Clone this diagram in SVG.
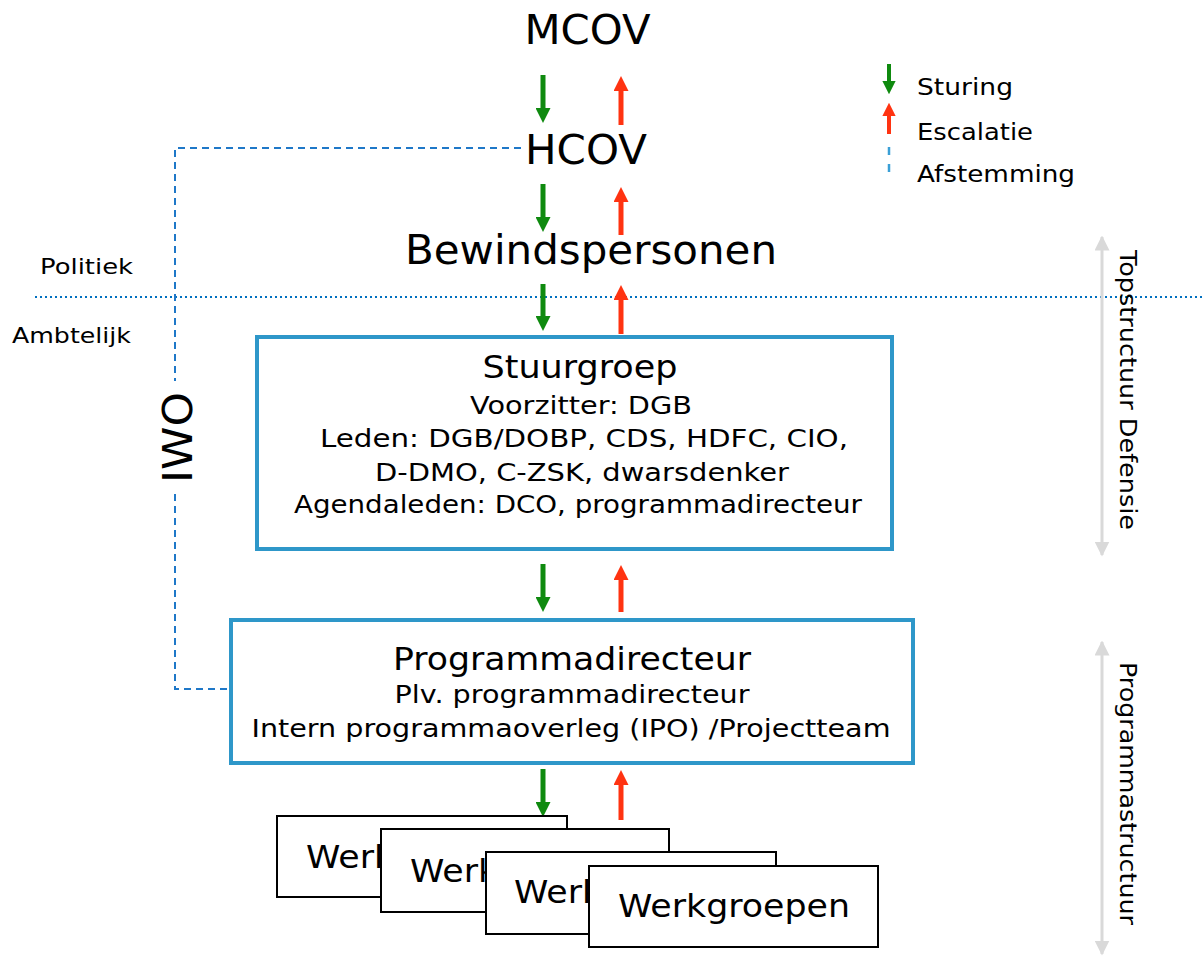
<svg xmlns="http://www.w3.org/2000/svg" width="1202" height="956" viewBox="0 0 1202 956">
<style>
text{font-family:"DejaVu Sans","Liberation Sans",sans-serif;fill:#000}
.big{font-size:41px}
.ttl{font-size:32px}
.body{font-size:25px}
.leg{font-size:23px}
.side{font-size:22px}
.box{fill:#fff;stroke:#2e97c9;stroke-width:4}
.wg{fill:#fff;stroke:#000;stroke-width:2}
.g{stroke:#0f8a0f;stroke-width:5;fill:none}
.r{stroke:#ff3311;stroke-width:5;fill:none}
.gl{stroke:#0f8a0f;stroke-width:4;fill:none}
.rl{stroke:#ff3311;stroke-width:4;fill:none}
.gray{stroke:#d9d9d9;stroke-width:3;fill:none}
.iwo{fill:none;stroke:#1f78c8;stroke-width:2;stroke-dasharray:7,5}
</style>
<defs>
<marker id="ag" viewBox="0 0 10 10" refX="1" refY="5" markerWidth="3" markerHeight="3" orient="auto" markerUnits="strokeWidth"><path d="M0,0L10,5L0,10z" fill="#0f8a0f"/></marker>
<marker id="ar" viewBox="0 0 10 10" refX="1" refY="5" markerWidth="3" markerHeight="3" orient="auto" markerUnits="strokeWidth"><path d="M0,0L10,5L0,10z" fill="#ff3311"/></marker>
<marker id="agl" viewBox="0 0 10 10" refX="1" refY="5" markerWidth="3.4" markerHeight="3.4" orient="auto" markerUnits="strokeWidth"><path d="M0,0L10,5L0,10z" fill="#0f8a0f"/></marker>
<marker id="arl" viewBox="0 0 10 10" refX="1" refY="5" markerWidth="3.4" markerHeight="3.4" orient="auto" markerUnits="strokeWidth"><path d="M0,0L10,5L0,10z" fill="#ff3311"/></marker>
<marker id="agr" viewBox="0 0 10 10" refX="9" refY="5" markerWidth="5" markerHeight="5" orient="auto-start-reverse" markerUnits="strokeWidth"><path d="M0,0L10,5L0,10z" fill="#d9d9d9"/></marker>
<clipPath id="c1"><rect x="277" y="816" width="104" height="81"/></clipPath>
<clipPath id="c2"><rect x="381" y="829" width="105" height="83"/></clipPath>
<clipPath id="c3"><rect x="486" y="852" width="103" height="82"/></clipPath>
</defs>

<g id="separator">
<line x1="35" y1="297" x2="1202" y2="297" stroke="#0070c0" stroke-width="2" stroke-dasharray="2,3"/>
<text class="side" x="40" y="274" textLength="93" lengthAdjust="spacingAndGlyphs">Politiek</text>
<text class="side" x="12" y="343" textLength="119" lengthAdjust="spacingAndGlyphs">Ambtelijk</text>
</g>

<g id="connectors">
<path class="iwo" d="M521,148H175V381"/>
<path class="iwo" d="M175,494V689H230"/>
<line class="g" x1="543" y1="75" x2="543" y2="109.5" marker-end="url(#ag)"/>
<line class="r" x1="621" y1="125" x2="621" y2="89.5" marker-end="url(#ar)"/>
<line class="g" x1="543" y1="184" x2="543" y2="218.5" marker-end="url(#ag)"/>
<line class="r" x1="621" y1="235" x2="621" y2="200.5" marker-end="url(#ar)"/>
<line class="g" x1="543" y1="284" x2="543" y2="317.5" marker-end="url(#ag)"/>
<line class="r" x1="621" y1="334" x2="621" y2="298.5" marker-end="url(#ar)"/>
<line class="g" x1="543" y1="564" x2="543" y2="598.5" marker-end="url(#ag)"/>
<line class="r" x1="621" y1="612" x2="621" y2="578.5" marker-end="url(#ar)"/>
<line class="g" x1="543" y1="769" x2="543" y2="803.5" marker-end="url(#ag)"/>
<line class="r" x1="621" y1="820" x2="621" y2="783.5" marker-end="url(#ar)"/>
</g>

<g id="iwo">
<text class="big" transform="translate(192,437.5) rotate(-90)" text-anchor="middle" textLength="91" lengthAdjust="spacingAndGlyphs">IWO</text>
</g>

<g id="mcov"><text class="big" x="587.5" y="44" text-anchor="middle" textLength="126" lengthAdjust="spacingAndGlyphs">MCOV</text></g>
<g id="hcov"><text class="big" x="586" y="164" text-anchor="middle" textLength="122" lengthAdjust="spacingAndGlyphs">HCOV</text></g>
<g id="bewindspersonen"><text class="big" x="591" y="264" text-anchor="middle" textLength="372" lengthAdjust="spacingAndGlyphs">Bewindspersonen</text></g>

<g id="legend">
<line class="gl" x1="889" y1="64" x2="889" y2="82" marker-end="url(#agl)"/>
<line class="rl" x1="889" y1="134" x2="889" y2="115" marker-end="url(#arl)"/>
<line x1="889" y1="147" x2="889" y2="174" stroke="#3a9fd6" stroke-width="2.5" stroke-dasharray="8,9"/>
<text class="leg" x="917" y="95" textLength="96" lengthAdjust="spacingAndGlyphs">Sturing</text>
<text class="leg" x="917" y="140" textLength="116" lengthAdjust="spacingAndGlyphs">Escalatie</text>
<text class="leg" x="917" y="182" textLength="158" lengthAdjust="spacingAndGlyphs">Afstemming</text>
</g>

<g id="stuurgroep">
<rect class="box" x="257" y="337" width="635" height="212"/>
<text class="ttl" x="580" y="378" text-anchor="middle" textLength="195" lengthAdjust="spacingAndGlyphs">Stuurgroep</text>
<text class="body" x="581" y="414" text-anchor="middle" textLength="222" lengthAdjust="spacingAndGlyphs">Voorzitter: DGB</text>
<text class="body" x="584" y="447" text-anchor="middle" textLength="528" lengthAdjust="spacingAndGlyphs">Leden: DGB/DOBP, CDS, HDFC, CIO,</text>
<text class="body" x="582" y="481" text-anchor="middle" textLength="414" lengthAdjust="spacingAndGlyphs">D-DMO, C-ZSK, dwarsdenker</text>
<text class="body" x="578" y="513" text-anchor="middle" textLength="568" lengthAdjust="spacingAndGlyphs">Agendaleden: DCO, programmadirecteur</text>
</g>

<g id="programmadirecteur">
<rect class="box" x="231" y="620" width="682" height="143"/>
<text class="ttl" x="572" y="670" text-anchor="middle" textLength="358" lengthAdjust="spacingAndGlyphs">Programmadirecteur</text>
<text class="body" x="572" y="703" text-anchor="middle" textLength="355" lengthAdjust="spacingAndGlyphs">Plv. programmadirecteur</text>
<text class="body" x="571" y="737" text-anchor="middle" textLength="639" lengthAdjust="spacingAndGlyphs">Intern programmaoverleg (IPO) /Projectteam</text>
</g>

<g id="werkgroepen1">
<rect class="wg" x="277" y="816" width="290" height="81"/>
<text class="ttl" x="306" y="868" textLength="232" lengthAdjust="spacingAndGlyphs" clip-path="url(#c1)">Werkgroepen</text>
</g>
<g id="werkgroepen2">
<rect class="wg" x="381" y="829" width="288" height="83"/>
<text class="ttl" x="410" y="882" textLength="232" lengthAdjust="spacingAndGlyphs" clip-path="url(#c2)">Werkgroepen</text>
</g>
<g id="werkgroepen3">
<rect class="wg" x="486" y="852" width="290" height="82"/>
<text class="ttl" x="514" y="903" textLength="232" lengthAdjust="spacingAndGlyphs" clip-path="url(#c3)">Werkgroepen</text>
</g>
<g id="werkgroepen4">
<rect class="wg" x="589" y="866" width="289" height="81"/>
<text class="ttl" x="618" y="917" textLength="232" lengthAdjust="spacingAndGlyphs">Werkgroepen</text>
</g>

<g id="topstructuur">
<line class="gray" x1="1102" y1="237" x2="1102" y2="555" marker-start="url(#agr)" marker-end="url(#agr)"/>
<text class="leg" transform="translate(1120,390) rotate(90)" text-anchor="middle" textLength="280" lengthAdjust="spacingAndGlyphs">Topstructuur Defensie</text>
</g>
<g id="programmastructuur">
<line class="gray" x1="1102" y1="642" x2="1102" y2="954" marker-start="url(#agr)" marker-end="url(#agr)"/>
<text class="leg" transform="translate(1120,793.5) rotate(90)" text-anchor="middle" textLength="263" lengthAdjust="spacingAndGlyphs">Programmastructuur</text>
</g>
</svg>
